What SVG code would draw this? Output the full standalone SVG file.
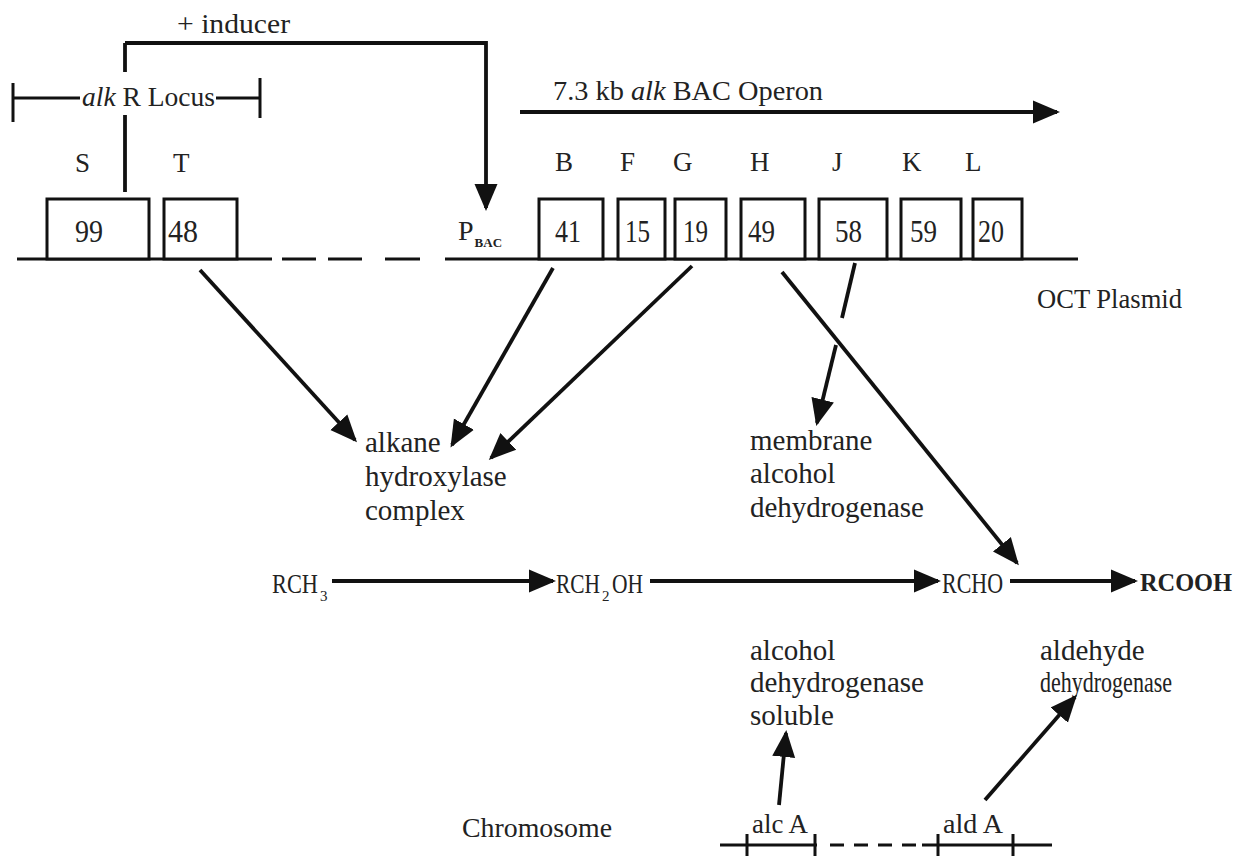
<svg xmlns="http://www.w3.org/2000/svg" width="1249" height="856" viewBox="0 0 1249 856">
<style>
text{font-family:"Liberation Serif","DejaVu Serif",serif;fill:#222}
.lbl{font-size:29px}
.gl{font-size:27px}
.num{font-size:31px}
.box{fill:#fff;stroke:#111;stroke-width:3}
.dna{stroke:#111;stroke-width:3;fill:none}
.arr{stroke:#111;stroke-width:3.8;fill:none;marker-end:url(#ah)}
.ln{stroke:#111;stroke-width:3.8;fill:none}
.sub{font-size:15px}
</style>
<defs>
<marker id="ah" markerUnits="userSpaceOnUse" markerWidth="27" markerHeight="25" viewBox="0 0 27 25" refX="24" refY="12.5" orient="auto">
<path d="M0,1 L27,12.5 L0,24 Z" fill="#111"/>
</marker>
</defs>
<rect width="1249" height="856" fill="#fff"/>

<g id="plasmid-dna">
<line class="dna" x1="17" y1="259" x2="272" y2="259"/>
<line class="dna" x1="282" y1="259" x2="316" y2="259"/>
<line class="dna" x1="328" y1="259" x2="362" y2="259"/>
<line class="dna" x1="385" y1="259" x2="420" y2="259"/>
<line class="dna" x1="445" y1="259" x2="1078" y2="259"/>
</g>

<g id="gene-S"><rect class="box" x="47" y="199" width="102" height="60"/><text class="num" x="75" y="242" textLength="28" lengthAdjust="spacingAndGlyphs">99</text><text class="gl" x="75" y="172">S</text></g>
<g id="gene-T"><rect class="box" x="164" y="199" width="73" height="60"/><text class="num" x="168" y="242" textLength="30" lengthAdjust="spacingAndGlyphs">48</text><text class="gl" x="173" y="172">T</text></g>
<g id="gene-B"><rect class="box" x="539" y="199" width="64" height="60"/><text class="num" x="555" y="242" textLength="26" lengthAdjust="spacingAndGlyphs">41</text><text class="gl" x="555" y="171">B</text></g>
<g id="gene-F"><rect class="box" x="618" y="199" width="47" height="60"/><text class="num" x="625" y="242" textLength="25" lengthAdjust="spacingAndGlyphs">15</text><text class="gl" x="620" y="171">F</text></g>
<g id="gene-G"><rect class="box" x="675" y="199" width="51" height="60"/><text class="num" x="683" y="242" textLength="25" lengthAdjust="spacingAndGlyphs">19</text><text class="gl" x="673" y="171">G</text></g>
<g id="gene-H"><rect class="box" x="741" y="199" width="64" height="60"/><text class="num" x="748" y="242" textLength="27" lengthAdjust="spacingAndGlyphs">49</text><text class="gl" x="750" y="171">H</text></g>
<g id="gene-J"><rect class="box" x="819" y="199" width="68" height="60"/><text class="num" x="835" y="242" textLength="27" lengthAdjust="spacingAndGlyphs">58</text><text class="gl" x="832" y="171">J</text></g>
<g id="gene-K"><rect class="box" x="901" y="199" width="60" height="60"/><text class="num" x="910" y="242" textLength="27" lengthAdjust="spacingAndGlyphs">59</text><text class="gl" x="902" y="171">K</text></g>
<g id="gene-L"><rect class="box" x="973" y="199" width="49" height="60"/><text class="num" x="978" y="242" textLength="26" lengthAdjust="spacingAndGlyphs">20</text><text class="gl" x="965" y="171">L</text></g>

<g id="promoter"><text x="458" y="240" font-size="28">P<tspan dx="1" dy="7" font-size="13" font-weight="bold">BAC</tspan></text></g>

<g id="inducer-label"><text x="177" y="33" font-size="28" textLength="113" lengthAdjust="spacingAndGlyphs">+ inducer</text></g>

<g id="alkR-locus">
<line class="dna" x1="13" y1="83" x2="13" y2="122"/>
<line class="dna" x1="13" y1="98" x2="80" y2="98"/>
<line class="dna" x1="216" y1="98" x2="260" y2="98"/>
<line class="dna" x1="260" y1="78" x2="260" y2="118"/>
<text x="82" y="106" font-size="27" textLength="133" lengthAdjust="spacingAndGlyphs"><tspan font-style="italic">alk</tspan> R Locus</text>
</g>

<g id="operon">
<text x="553" y="100" font-size="28" textLength="270" lengthAdjust="spacingAndGlyphs">7.3 kb  <tspan font-style="italic">alk</tspan> BAC Operon</text>
</g>

<g id="oct-plasmid"><text x="1037" y="308" font-size="28" textLength="145" lengthAdjust="spacingAndGlyphs">OCT Plasmid</text></g>

<g id="alkane-hydroxylase"><text class="lbl" x="365" y="452">alkane</text><text class="lbl" x="365" y="486">hydroxylase</text><text class="lbl" x="365" y="520">complex</text></g>

<g id="membrane-adh"><text class="lbl" x="750" y="450">membrane</text><text class="lbl" x="750" y="483">alcohol</text><text class="lbl" x="750" y="517">dehydrogenase</text></g>

<g id="RCH3"><text x="272" y="593" font-size="28" textLength="46" lengthAdjust="spacingAndGlyphs">RCH</text><text class="sub" x="320" y="601">3</text></g>
<g id="RCH2OH"><text x="556" y="593" font-size="28" textLength="44" lengthAdjust="spacingAndGlyphs">RCH</text><text class="sub" x="602" y="601">2</text><text x="612" y="593" font-size="28" textLength="31" lengthAdjust="spacingAndGlyphs">OH</text></g>
<g id="RCHO"><text x="942" y="593" font-size="29" textLength="61" lengthAdjust="spacingAndGlyphs">RCHO</text></g>
<g id="RCOOH"><text x="1140" y="591" font-size="26" font-weight="bold" fill="#333" textLength="92" lengthAdjust="spacingAndGlyphs">RCOOH</text></g>

<g id="soluble-adh"><text class="lbl" x="750" y="660">alcohol</text><text class="lbl" x="750" y="692">dehydrogenase</text><text class="lbl" x="750" y="725">soluble</text></g>

<g id="aldehyde-dh"><text class="lbl" x="1040" y="660">aldehyde</text><text x="1040" y="692" font-size="30" textLength="132" lengthAdjust="spacingAndGlyphs">dehydrogenase</text></g>

<g id="chromosome">
<text x="462" y="837" font-size="28" textLength="150" lengthAdjust="spacingAndGlyphs">Chromosome</text>
<line class="dna" x1="720" y1="845" x2="817" y2="845"/>
<line class="dna" x1="830" y1="845" x2="920" y2="845" stroke-dasharray="14,10"/>
<line class="dna" x1="922" y1="845" x2="1052" y2="845"/>
<line class="dna" x1="747" y1="834" x2="747" y2="856"/>
<line class="dna" x1="815" y1="834" x2="815" y2="856"/>
<line class="dna" x1="938" y1="834" x2="938" y2="856"/>
<line class="dna" x1="1013" y1="834" x2="1013" y2="856"/>
<text x="752" y="833" font-size="27" textLength="56" lengthAdjust="spacingAndGlyphs">alc A</text>
<text x="943" y="833" font-size="27" textLength="60" lengthAdjust="spacingAndGlyphs">ald A</text>
</g>

<g id="connectors">
<path class="ln" d="M125,72 V43"/>
<path class="arr" d="M125,43 H486 V208"/>
<line class="ln" x1="125" y1="115" x2="125" y2="192"/>
<line class="arr" x1="520" y1="112" x2="1057" y2="112"/>
<line class="arr" x1="200" y1="270" x2="355" y2="440"/>
<line class="arr" x1="553" y1="268" x2="452" y2="445"/>
<line class="arr" x1="692" y1="266" x2="491" y2="458"/>
<line class="ln" x1="855" y1="263" x2="842" y2="318"/>
<line class="arr" x1="836" y1="345" x2="817" y2="423"/>
<line class="arr" x1="782" y1="272" x2="1017" y2="563"/>
<line class="arr" x1="332" y1="581" x2="553" y2="581"/>
<line class="arr" x1="650" y1="581" x2="938" y2="581"/>
<line class="arr" x1="1010" y1="581" x2="1135" y2="581"/>
<line class="arr" x1="779" y1="805" x2="786" y2="733"/>
<line class="arr" x1="985" y1="800" x2="1075" y2="697"/>
</g>
</svg>
